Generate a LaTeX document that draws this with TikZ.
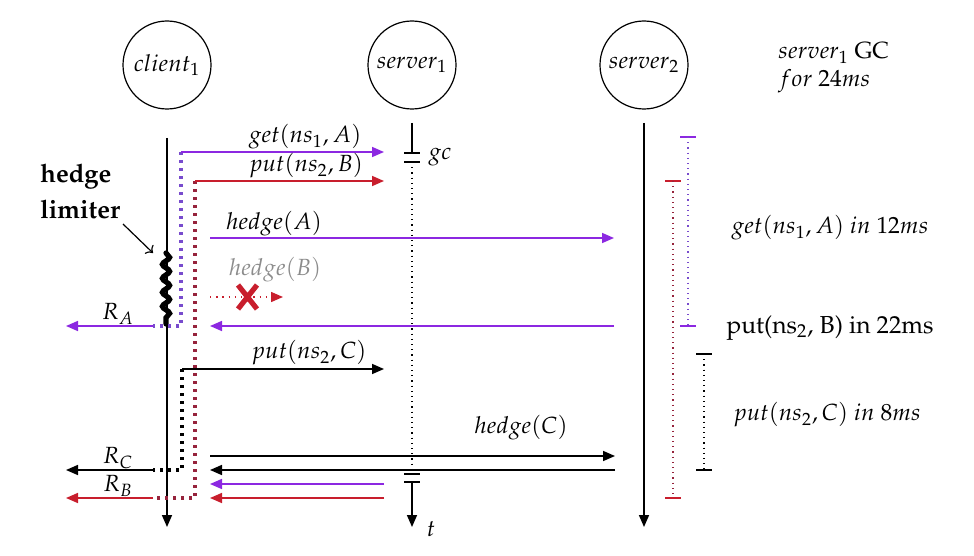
\documentclass[tikz,border=0pt]{standalone}
\usepackage[T1]{fontenc}
\usepackage{mathpazo}
\usetikzlibrary{arrows.meta,decorations.pathmorphing}
\definecolor{pp}{RGB}{140,40,225}
\definecolor{rd}{RGB}{200,30,45}
\definecolor{dpp}{RGB}{120,75,205}
\definecolor{drd}{RGB}{150,35,60}
\definecolor{gry}{RGB}{140,140,140}
\tikzset{
  life/.style={line width=0.8pt},
  msg/.style={line width=0.8pt,-{Triangle[length=6pt,width=5pt]}},
  dots/.style={line width=1.6pt,dash pattern=on 1.6pt off 2.4pt},
  fine/.style={line width=0.6pt,dash pattern=on 0.6pt off 2pt},
  actor/.style={circle,draw,line width=0.6pt,minimum size=44pt,inner sep=0pt},
  lbl/.style={inner sep=1pt},
  tick/.style={line width=0.8pt},
}
\begin{document}
\begin{tikzpicture}[x=0.5pt,y=-0.5pt,font=\fontsize{11.7}{14}\selectfont]
\useasboundingbox (0,0) rectangle (974,556);
% actors
\node[actor] (c1) at (167,65) {$client_1$};
\node[actor] (s1) at (412,65) {$server_1$};
\node[actor] (s2) at (644,65) {$server_2$};
\node[align=left,anchor=west,lbl] (gcnote) at (776,68) {$server_1$ GC\\$for$ $24ms$};
% lifelines
\coordinate (c1top) at (167,138); \coordinate (c1bot) at (167,527);
\draw[life,-{Triangle[length=6pt,width=5pt]}] (c1top) -- (c1bot);
\coordinate (s1top) at (412,123); \coordinate (s1g1) at (412,153); \coordinate (s1g2) at (412,162);
\coordinate (s1g3) at (412,474); \coordinate (s1g4) at (412,482); \coordinate (s1bot) at (412,527);
\draw[life] (s1top) -- (s1g1);
\draw[life] ([xshift=-4pt]s1g1) -- ([xshift=4pt]s1g1);
\draw[life] ([xshift=-4pt]s1g2) -- ([xshift=4pt]s1g2);
\draw[fine] (s1g2) -- (s1g3);
\draw[life] ([xshift=-4pt]s1g3) -- ([xshift=4pt]s1g3);
\draw[life] ([xshift=-4pt]s1g4) -- ([xshift=4pt]s1g4);
\draw[life,-{Triangle[length=6pt,width=5pt]}] (s1g4) -- (s1bot);
\node[lbl] (gc) at (440,157) {$gc$};
\node[lbl] (tlab) at (431,529) {$t$};
\coordinate (s2top) at (644,123); \coordinate (s2bot) at (644,527);
\draw[life,-{Triangle[length=6pt,width=5pt]}] (s2top) -- (s2bot);
% hedge limiter
\node[align=left,anchor=west,lbl,font=\fontsize{12.8}{18}\selectfont\bfseries] (hl) at (38,191) {hedge\\limiter};
\coordinate (hla) at (123,224); \coordinate (hlb) at (153,253);
\draw[line width=0.6pt,->] (hla) -- (hlb);
\coordinate (sn0) at (166,253); \coordinate (sn1) at (166,324);
\draw[line width=2.6pt,line cap=round,decorate,decoration={snake,amplitude=1.8pt,segment length=7pt}] (sn0) -- (sn1);
% get(ns1,A)
\coordinate (g0) at (181,152); \coordinate (g1) at (384,152);
\coordinate (ga) at (181,326); \coordinate (gb) at (153,326); \coordinate (gtip) at (66,326);
\draw[dots,dpp] (g0) -- (ga) -- (gb);
\draw[msg,pp] (g0) -- (g1);
\draw[msg,pp] (gb) -- (gtip);
\node[lbl] (lget) at (305,137) {$get(ns_1, A)$};
\node[lbl] (lRA) at (118,314) {$R_A$};
% put(ns2,B)
\coordinate (p0) at (195,181); \coordinate (p1) at (384,181);
\coordinate (pa) at (195,498); \coordinate (pb) at (153,498); \coordinate (ptip) at (66,498);
\draw[dots,drd] (p0) -- (pa) -- (pb);
\draw[msg,rd] (p0) -- (p1);
\draw[msg,rd] (pb) -- (ptip);
\node[lbl] (lput) at (306,166) {$put(ns_2, B)$};
\node[lbl] (lRB) at (118,486) {$R_B$};
% hedge(A)
\coordinate (h0) at (210,238); \coordinate (h1) at (614,238);
\draw[msg,pp] (h0) -- (h1);
\node[lbl] (lhA) at (274,224) {$hedge(A)$};
% hedge(B)
\node[lbl,text=gry] (lhB) at (275,270) {$hedge(B)$};
\coordinate (hb0) at (210,297); \coordinate (hb1) at (283,297);
\draw[rd,line width=0.7pt,dash pattern=on 0.7pt off 2.4pt,-{Triangle[length=6pt,width=5pt]}] (hb0) -- (hb1);
\coordinate (x1) at (238,285); \coordinate (x2) at (257,309);
\coordinate (x3) at (257,285); \coordinate (x4) at (238,309);
\draw[rd,line width=2.6pt] (x1) -- (x2) (x3) -- (x4);
% reply A from server2
\coordinate (ra0) at (614,326); \coordinate (ra1) at (210,326);
\draw[msg,pp] (ra0) -- (ra1);
% put(ns2,C)
\coordinate (q0) at (182,369); \coordinate (q1) at (384,369);
\coordinate (qa) at (182,470); \coordinate (qb) at (153,470); \coordinate (qtip) at (66,470);
\draw[dots,black] (q0) -- (qa) -- (qb);
\draw[msg] (q0) -- (q1);
\draw[msg] (qb) -- (qtip);
\node[lbl] (lputC) at (309,353) {$put(ns_2, C)$};
\node[lbl] (lRC) at (118,458) {$R_C$};
% hedge(C)
\coordinate (hc0) at (210,456); \coordinate (hc1) at (615,456);
\draw[msg] (hc0) -- (hc1);
\node[lbl] (lhC) at (521,428) {$hedge(C)$};
\coordinate (rc0) at (615,470); \coordinate (rc1) at (210,470);
\draw[msg] (rc0) -- (rc1);
% late replies from server1
\coordinate (la0) at (384,484); \coordinate (la1) at (210,484);
\draw[msg,pp] (la0) -- (la1);
\coordinate (lb0) at (384,498); \coordinate (lb1) at (210,498);
\draw[msg,rd] (lb0) -- (lb1);
% latency brackets
\coordinate (bpa) at (688,137); \coordinate (bpb) at (688,326);
\draw[tick,pp] ([xshift=-4pt]bpa) -- ([xshift=4pt]bpa);
\draw[tick,pp] ([xshift=-4pt]bpb) -- ([xshift=4pt]bpb);
\draw[fine,dpp] (bpa) -- (bpb);
\coordinate (bra) at (673,181); \coordinate (brb) at (673,498);
\draw[tick,rd] ([xshift=-4pt]bra) -- ([xshift=4pt]bra);
\draw[tick,rd] ([xshift=-4pt]brb) -- ([xshift=4pt]brb);
\draw[fine,drd] (bra) -- (brb);
\coordinate (bka) at (704,354); \coordinate (bkb) at (704,470);
\draw[tick] ([xshift=-4pt]bka) -- ([xshift=4pt]bka);
\draw[tick] ([xshift=-4pt]bkb) -- ([xshift=4pt]bkb);
\draw[fine] (bka) -- (bkb);
\node[lbl] (t12) at (830,228) {$get(ns_1, A)$ $in$ $12ms$};
\node[lbl,font=\fontsize{12.3}{14}\selectfont] (t22) at (830,328) {put(ns$_2$, B) in 22ms};
\node[lbl] (t8) at (827,415) {$put(ns_2, C)$ $in$ $8ms$};
\end{tikzpicture}
\end{document}
